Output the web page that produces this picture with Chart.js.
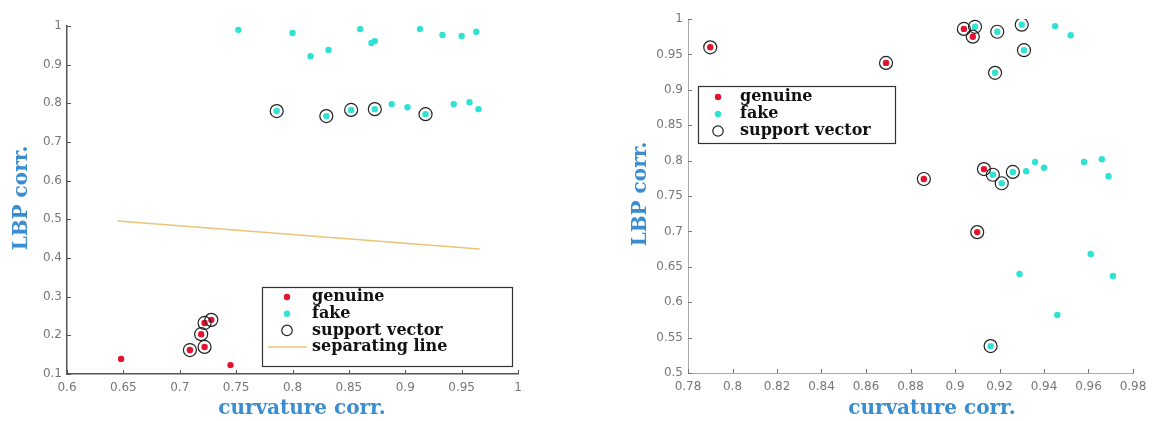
<!DOCTYPE html>
<html>
<head>
<meta charset="utf-8">
<script src="https://cdn.jsdelivr.net/npm/chart.js@4.4.0/dist/chart.umd.min.js"></script>
<style>
  html, body { margin: 0; padding: 0; background: #fff; }
  #wrap { position: relative; width: 1160px; height: 421px; }
  .pane { position: absolute; top: 0; width: 580px; height: 421px; }
</style>
</head>
<body>
<div id="wrap">
  <div class="pane" style="left:0"><canvas id="leftChart" width="580" height="421"></canvas></div>
  <div class="pane" style="left:580px"><canvas id="rightChart" width="580" height="421"></canvas></div>
</div>
<script>
// --- left plot: training set with the separating line ---
const leftGenuineX = [0.648, 0.709, 0.719, 0.722, 0.722, 0.728, 0.745];
const leftGenuineY = [0.139, 0.162, 0.203, 0.170, 0.232, 0.240, 0.123];
const leftFakeX = [0.752, 0.800, 0.816, 0.832, 0.860, 0.870, 0.873, 0.913, 0.933, 0.950, 0.963,
                   0.786, 0.830, 0.852, 0.873, 0.888, 0.902, 0.918, 0.943, 0.957, 0.965];
const leftFakeY = [0.990, 0.982, 0.922, 0.938, 0.992, 0.956, 0.961, 0.992, 0.977, 0.974, 0.985,
                   0.780, 0.767, 0.783, 0.785, 0.798, 0.790, 0.772, 0.798, 0.803, 0.785];
const leftSvX = [0.709, 0.719, 0.722, 0.722, 0.728, 0.786, 0.830, 0.852, 0.873, 0.918];
const leftSvY = [0.162, 0.203, 0.170, 0.232, 0.240, 0.780, 0.767, 0.783, 0.785, 0.772];
const sepLineX = [0.645, 0.966];
const sepLineY = [0.496, 0.423];
const leftXTicks = [0.6, 0.65, 0.7, 0.75, 0.8, 0.85, 0.9, 0.95, 1];
const leftYTicks = [0.1, 0.2, 0.3, 0.4, 0.5, 0.6, 0.7, 0.8, 0.9, 1];

// --- right plot ---
const rightGenuineX = [0.790, 0.869, 0.904, 0.908, 0.886, 0.913, 0.910];
const rightGenuineY = [0.960, 0.938, 0.986, 0.975, 0.774, 0.788, 0.699];
const rightFakeX = [0.909, 0.919, 0.930, 0.931, 0.918, 0.945, 0.952,
                    0.917, 0.921, 0.926, 0.932, 0.936, 0.940, 0.958, 0.966, 0.969,
                    0.929, 0.961, 0.971, 0.946, 0.916];
const rightFakeY = [0.989, 0.982, 0.992, 0.956, 0.924, 0.990, 0.977,
                    0.780, 0.768, 0.784, 0.785, 0.798, 0.790, 0.798, 0.802, 0.778,
                    0.640, 0.668, 0.637, 0.582, 0.538];
const rightSvX = [0.790, 0.869, 0.904, 0.908, 0.886, 0.913, 0.910,
                  0.909, 0.919, 0.930, 0.931, 0.918, 0.917, 0.921, 0.926, 0.916];
const rightSvY = [0.960, 0.938, 0.986, 0.975, 0.774, 0.788, 0.699,
                  0.989, 0.982, 0.992, 0.956, 0.924, 0.780, 0.768, 0.784, 0.538];
const rightXTicks = [0.78, 0.8, 0.82, 0.84, 0.86, 0.88, 0.9, 0.92, 0.94, 0.96, 0.98];
const rightYTicks = [0.5, 0.55, 0.6, 0.65, 0.7, 0.75, 0.8, 0.85, 0.9, 0.95, 1];

const RED = '#e3122f';
const CYAN = '#2ee3d3';
const TITLE_BLUE = '#3a8dd0';

function pts(xs, ys) {
    return xs.map((x, i) => ({ x: x, y: ys[i] }));
}

function axis(tickVals, size, isX, lineColor, lineWidth) {
    return {
        type: 'linear',
        min: tickVals[0],
        max: tickVals[tickVals.length - 1],
        afterBuildTicks: s => { s.ticks = tickVals.map(v => ({ value: v })); },
        afterFit: s => { if (isX) s.height = size; else s.width = size; },
        grid: { display: false, drawTicks: false },
        border: { display: true, color: lineColor, width: lineWidth },
        ticks: {
            autoSkip: false, maxRotation: 0,
            color: '#777',
            font: { family: 'DejaVu Sans', size: 12 },
            padding: isX ? 7 : 5,
            callback: v => String(+(+v).toFixed(2))
        }
    };
}

// small ticks pointing into the plot (matlab style)
const innerTicks = {
    id: 'innerTicks',
    afterDraw(chart, args, o) {
        const { ctx, chartArea: a, scales: { x, y } } = chart;
        ctx.save();
        ctx.strokeStyle = o.color;
        ctx.lineWidth = 1;
        ctx.beginPath();
        x.ticks.forEach(t => {
            const px = Math.round(x.getPixelForValue(t.value)) + 0.5;
            ctx.moveTo(px, a.bottom); ctx.lineTo(px, a.bottom - 4);
        });
        y.ticks.forEach(t => {
            const py = Math.round(y.getPixelForValue(t.value)) + 0.5;
            ctx.moveTo(a.left, py); ctx.lineTo(a.left + 4, py);
        });
        ctx.stroke();
        ctx.restore();
    }
};

// boxed legend drawn inside the axes
const boxLegend = {
    id: 'boxLegend',
    afterDraw(chart, args, o) {
        const ctx = chart.ctx;
        ctx.save();
        ctx.fillStyle = '#fff';
        ctx.fillRect(o.x, o.y, o.w, o.h);
        ctx.strokeStyle = '#333';
        ctx.lineWidth = 1.2;
        ctx.strokeRect(o.x + 0.5, o.y + 0.5, o.w, o.h);
        ctx.font = 'bold 16px "DejaVu Serif"';
        ctx.textBaseline = 'middle';
        chart.data.datasets.forEach((d, i) => {
            const cy = o.firstRow + i * o.rowH;
            if (d.showLine) {
                ctx.strokeStyle = d.borderColor;
                ctx.lineWidth = d.borderWidth;
                ctx.beginPath();
                ctx.moveTo(o.markX - 19, cy); ctx.lineTo(o.markX + 20, cy);
                ctx.stroke();
            } else if (d.pointBorderWidth > 0) {
                // hollow marker shown a bit smaller in the legend
                ctx.beginPath();
                ctx.arc(o.markX, cy, d.pointRadius * 0.8, 0, Math.PI * 2);
                ctx.strokeStyle = d.pointBorderColor;
                ctx.lineWidth = d.pointBorderWidth;
                ctx.stroke();
            } else {
                ctx.beginPath();
                ctx.arc(o.markX, cy, d.pointRadius, 0, Math.PI * 2);
                ctx.fillStyle = d.pointBackgroundColor;
                ctx.fill();
            }
            ctx.fillStyle = '#111';
            ctx.fillText(d.label, o.textX, cy);
        });
        ctx.restore();
    }
};

const axisTitles = {
    id: 'axisTitles',
    afterDraw(chart, args, o) {
        const ctx = chart.ctx;
        ctx.save();
        ctx.font = 'bold 20px "DejaVu Serif"';
        ctx.fillStyle = TITLE_BLUE;
        ctx.textAlign = 'center';
        ctx.textBaseline = 'middle';
        ctx.fillText(o.xText, o.xPos[0], o.xPos[1]);
        ctx.translate(o.yPos[0], o.yPos[1]);
        ctx.rotate(-Math.PI / 2);
        ctx.fillText(o.yText, 0, 0);
        ctx.restore();
    }
};

function pointSets(gx, gy, fx, fy, sx, sy) {
    return [
        { label: 'genuine', data: pts(gx, gy), order: 1, pointRadius: 3.2,
          pointBackgroundColor: RED, pointBorderWidth: 0 },
        { label: 'fake', data: pts(fx, fy), order: 2, pointRadius: 3.2,
          pointBackgroundColor: CYAN, pointBorderWidth: 0 },
        { label: 'support vector', data: pts(sx, sy), order: 0, pointRadius: 6.5,
          pointBackgroundColor: 'rgba(0,0,0,0)', pointBorderColor: '#222', pointBorderWidth: 1.2 }
    ];
}

const leftSets = pointSets(leftGenuineX, leftGenuineY, leftFakeX, leftFakeY, leftSvX, leftSvY);
leftSets.push({
    label: 'separating line', data: pts(sepLineX, sepLineY), order: 3, showLine: true,
    borderColor: 'rgb(236,196,120)', borderWidth: 1.5, pointRadius: 0
});

new Chart(document.getElementById('leftChart'), {
    type: 'scatter',
    data: { datasets: leftSets },
    options: {
        responsive: false,
        animation: false,
        layout: { padding: { left: 0, top: 26, right: 62, bottom: 0 } },
        scales: {
            x: axis(leftXTicks, 47, true, '#555', 1.5),
            y: axis(leftYTicks, 67, false, '#555', 1.5)
        },
        plugins: {
            legend: { display: false },
            tooltip: { enabled: false },
            innerTicks: { color: '#555' },
            boxLegend: { x: 262, y: 287, w: 250, h: 79, firstRow: 297, rowH: 16.7, markX: 287, textX: 312 },
            axisTitles: { xText: 'curvature corr.', xPos: [302, 409], yText: 'LBP corr.', yPos: [22, 198] }
        }
    },
    plugins: [innerTicks, boxLegend, axisTitles]
});

new Chart(document.getElementById('rightChart'), {
    type: 'scatter',
    data: { datasets: pointSets(rightGenuineX, rightGenuineY, rightFakeX, rightFakeY, rightSvX, rightSvY) },
    options: {
        responsive: false,
        animation: false,
        layout: { padding: { left: 0, top: 19, right: 27, bottom: 0 } },
        scales: {
            x: axis(rightXTicks, 48, true, '#aaa', 1),
            y: axis(rightYTicks, 108, false, '#aaa', 1)
        },
        plugins: {
            legend: { display: false },
            tooltip: { enabled: false },
            innerTicks: { color: '#777' },
            boxLegend: { x: 118, y: 86, w: 197, h: 57, firstRow: 97, rowH: 17, markX: 138, textX: 160 },
            axisTitles: { xText: 'curvature corr.', xPos: [352, 409], yText: 'LBP corr.', yPos: [61, 194] }
        }
    },
    plugins: [innerTicks, boxLegend, axisTitles]
});
</script>
</body>
</html>
